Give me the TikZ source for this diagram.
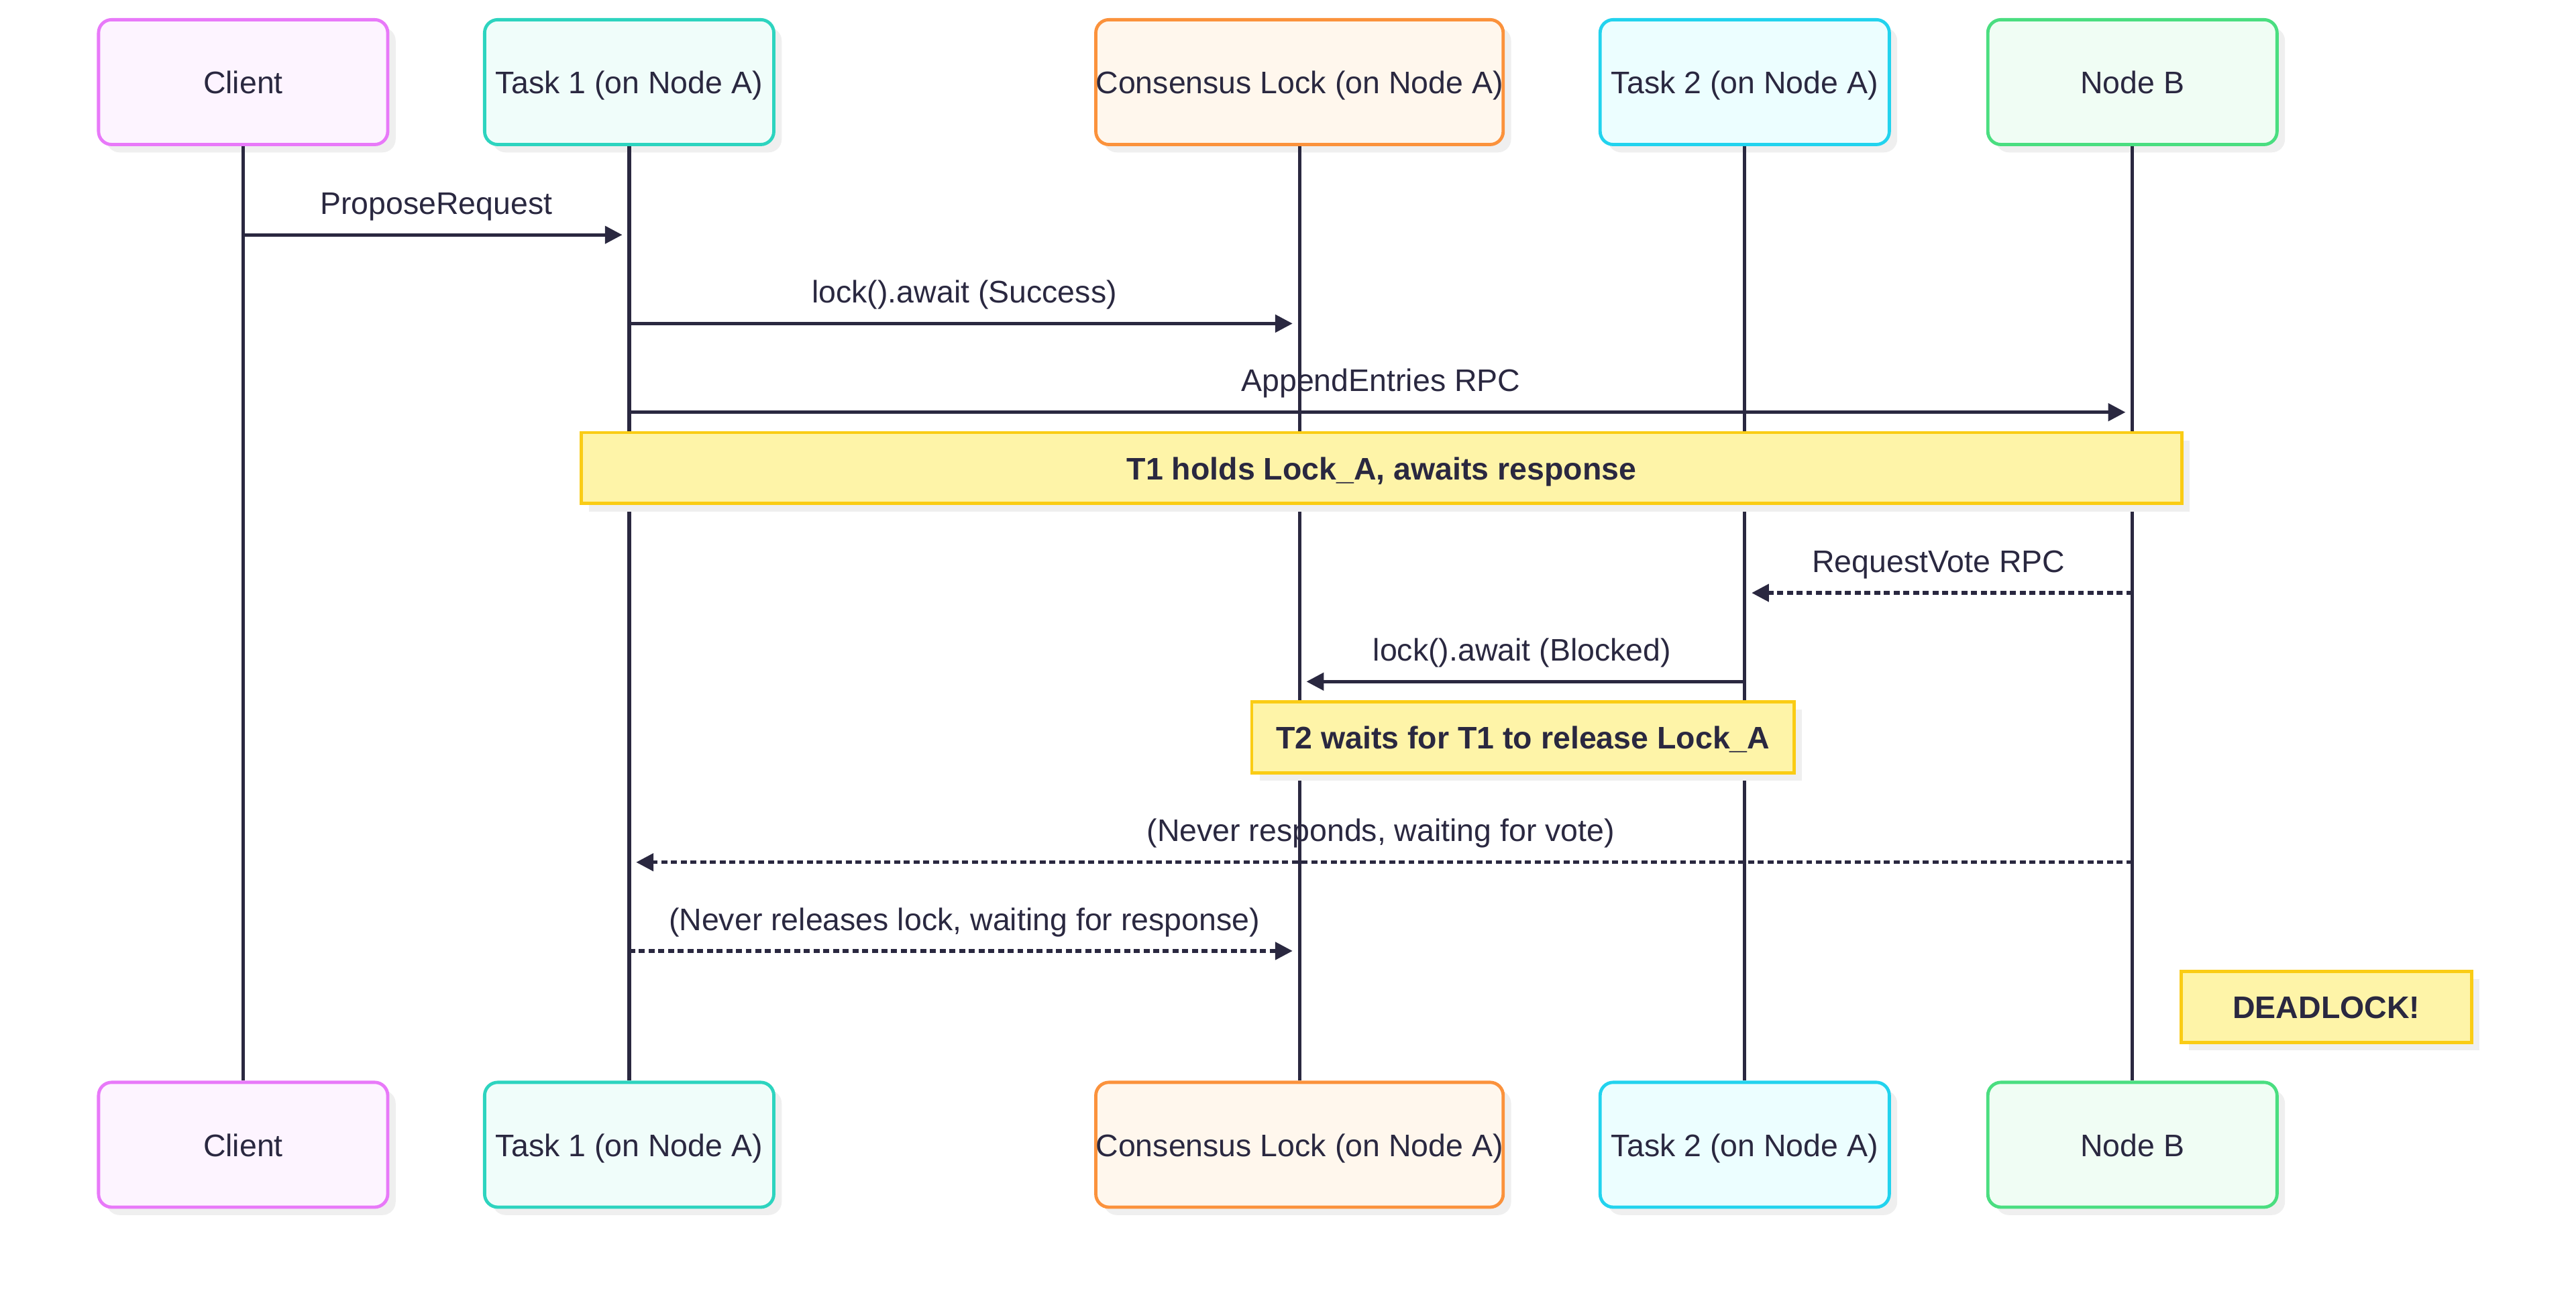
\documentclass[tikz,border=0pt]{standalone}
\usepackage{fontspec}
\setmainfont{Liberation Sans}
\usetikzlibrary{arrows.meta,shadows}

\definecolor{ink}{HTML}{2A2840}
\definecolor{shade}{HTML}{EFEFEF}
\definecolor{clientline}{HTML}{E879F9}
\definecolor{clientfill}{HTML}{FDF4FF}
\definecolor{taskaline}{HTML}{2DD4BF}
\definecolor{taskafill}{HTML}{F0FDFA}
\definecolor{lockline}{HTML}{FB923C}
\definecolor{lockfill}{HTML}{FFF7ED}
\definecolor{taskbline}{HTML}{22D3EE}
\definecolor{taskbfill}{HTML}{ECFEFF}
\definecolor{nodebline}{HTML}{4ADE80}
\definecolor{nodebfill}{HTML}{F0FDF4}
\definecolor{noteline}{HTML}{FACC15}
\definecolor{notefill}{HTML}{FEF4A8}

\tikzset{
  txt/.style={text=ink, font=\fontsize{13.5}{16}\selectfont, text height=1em, text depth=0em},
  actor/.style={txt, draw, rounded corners=0.2cm, line width=1.4pt,
    minimum width=4.4cm, minimum height=1.9cm, inner sep=0pt,
    drop shadow={shadow xshift=0.12cm, shadow yshift=-0.12cm, fill=shade, opacity=1}},
  note/.style={txt, font=\fontsize{13.5}{16}\selectfont\bfseries, draw=noteline, fill=notefill,
    line width=1.4pt, minimum height=1.08cm,
    drop shadow={shadow xshift=0.12cm, shadow yshift=-0.12cm, fill=shade, opacity=1}},
  life/.style={draw=ink, line width=1.5pt},
  msg/.style={draw=ink, line width=1.5pt, -{Triangle[length=7.5pt,width=7.5pt]}, shorten >=3pt},
  reply/.style={msg, dash pattern=on 2.6pt off 1.6pt},
  lbl/.style={txt, midway, yshift=0.49cm}
}

\begin{document}
\begin{tikzpicture}[x=0.025cm, y=-0.025cm]
  \useasboundingbox (0,0) rectangle (1568,786);

  % participants, top and bottom
  \node[actor, draw=clientline, fill=clientfill] (cltop) at (148,50) {Client};
  \node[actor, draw=taskaline, fill=taskafill] (t1top) at (383,50) {Task 1 (on Node A)};
  \node[actor, draw=lockline, fill=lockfill, minimum width=6.15cm] (lktop) at (791,50) {Consensus Lock (on Node A)};
  \node[actor, draw=taskbline, fill=taskbfill] (t2top) at (1062,50) {Task 2 (on Node A)};
  \node[actor, draw=nodebline, fill=nodebfill] (nbtop) at (1298,50) {Node B};

  \node[actor, draw=clientline, fill=clientfill] (clbot) at (148,697) {Client};
  \node[actor, draw=taskaline, fill=taskafill] (t1bot) at (383,697) {Task 1 (on Node A)};
  \node[actor, draw=lockline, fill=lockfill, minimum width=6.15cm] (lkbot) at (791,697) {Consensus Lock (on Node A)};
  \node[actor, draw=taskbline, fill=taskbfill] (t2bot) at (1062,697) {Task 2 (on Node A)};
  \node[actor, draw=nodebline, fill=nodebfill] (nbbot) at (1298,697) {Node B};

  % lifelines
  \draw[life] (cltop) -- (clbot);
  \draw[life] (t1top) -- (t1bot);
  \draw[life] (lktop) -- (lkbot);
  \draw[life] (t2top) -- (t2bot);
  \draw[life] (nbtop) -- (nbbot);

  % messages
  \coordinate (prop0) at (148,143);
  \coordinate (prop1) at (383,143);
  \draw[msg] (prop0) -- (prop1) node[lbl] {ProposeRequest};

  \coordinate (lockok0) at (383,197);
  \coordinate (lockok1) at (791,197);
  \draw[msg] (lockok0) -- (lockok1) node[lbl] {lock().await (Success)};

  \coordinate (append0) at (383,251);
  \coordinate (append1) at (1298,251);
  \draw[msg] (append0) -- (append1) node[lbl] {AppendEntries RPC};

  \node[note, minimum width=24.35cm] (holds) at (841,285) {T1 holds Lock\_A, awaits response};

  \coordinate (vote0) at (1298,361);
  \coordinate (vote1) at (1062,361);
  \draw[reply] (vote0) -- (vote1) node[lbl] {RequestVote RPC};

  \coordinate (lockwait0) at (1062,415);
  \coordinate (lockwait1) at (791,415);
  \draw[msg] (lockwait0) -- (lockwait1) node[lbl] {lock().await (Blocked)};

  \node[note, minimum width=8.25cm] (waits) at (927,449) {T2 waits for T1 to release Lock\_A};

  \coordinate (never0) at (1298,525);
  \coordinate (never1) at (383,525);
  \draw[reply] (never0) -- (never1) node[lbl] {(Never responds, waiting for vote)};

  \coordinate (release0) at (383,579);
  \coordinate (release1) at (791,579);
  \draw[reply] (release0) -- (release1) node[lbl] {(Never releases lock, waiting for response)};

  \node[note, minimum width=4.42cm] (dead) at (1416,613) {DEADLOCK!};
\end{tikzpicture}
\end{document}
